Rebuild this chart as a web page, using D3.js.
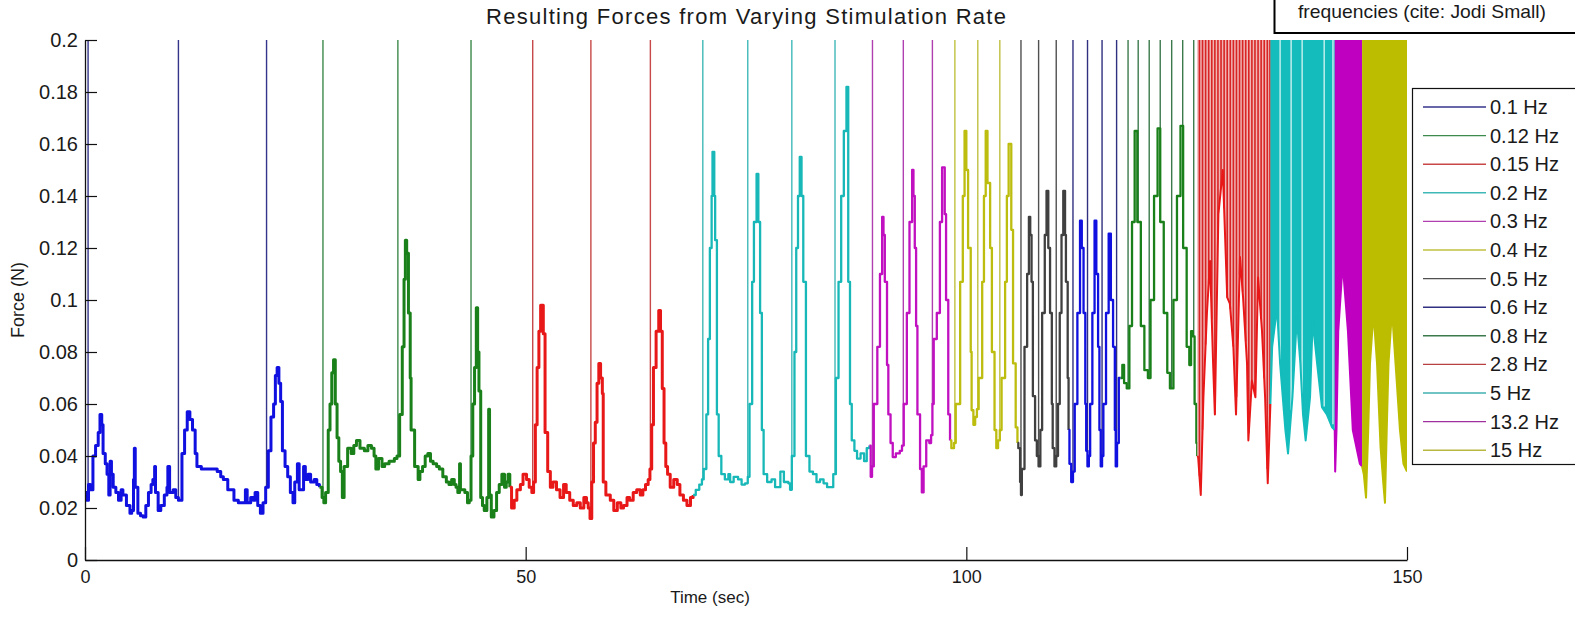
<!DOCTYPE html>
<html lang="en">
<head>
<meta charset="UTF-8">
<title>Resulting Forces from Varying Stimulation Rate</title>
<script src="https://d3js.org/d3.v7.min.js"></script>
<style>
  body { margin: 0; background: #fff; }
  svg { display: block; }
  text { font-family: "Liberation Sans", Arial, sans-serif; fill: #1a1a1a; }
</style>
</head>
<body>
<div id="chart"></div>
<script>
// legend labels, in plotting order
const labels = ["0.1 Hz", "0.12 Hz", "0.15 Hz", "0.2 Hz", "0.3 Hz", "0.4 Hz", "0.5 Hz",
                "0.6 Hz", "0.8 Hz", "2.8 Hz", "5 Hz", "13.2 Hz", "15 Hz"];
const xTicks = [0, 50, 100, 150];
const yTicks = [0, 0.02, 0.04, 0.06, 0.08, 0.1, 0.12, 0.14, 0.16, 0.18, 0.2];

// force trace, [time (s), force (N)]
const trace01 = [[0,0.026],[0.2,0.023],[0.4,0.029],[0.6,0.027],[0.9,0.040],[1.2,0.044],[1.5,0.049],[1.7,0.056],[1.9,0.052],[2.05,0.041],[2.3,0.037],[2.5,0.033],[2.7,0.025],[2.85,0.038],[3.0,0.033],[3.2,0.028],[3.5,0.026],[3.8,0.023],[4.1,0.027],[4.3,0.025],[4.7,0.021],[5.1,0.018],[5.3,0.019],[5.5,0.031],[5.6,0.043],[5.7,0.028],[6.0,0.018],[6.3,0.017],[6.6,0.0165],[6.9,0.021],[7.2,0.026],[7.5,0.029],[7.7,0.031],[7.9,0.036],[8.0,0.026],[8.3,0.019],[8.6,0.021],[9.0,0.025],[9.3,0.028],[9.4,0.036],[9.6,0.026],[10.0,0.027],[10.3,0.024],[10.6,0.023],[11.0,0.041],[11.3,0.050],[11.6,0.057],[11.9,0.054],[12.2,0.050],[12.5,0.041],[12.7,0.036],[13.2,0.035],[13.9,0.035],[14.5,0.035],[15.0,0.034],[15.4,0.032],[15.7,0.031],[16.2,0.027],[16.9,0.023],[17.4,0.022],[18.0,0.022],[18.2,0.027],[18.4,0.022],[18.8,0.024],[19.1,0.023],[19.3,0.026],[19.6,0.021],[19.9,0.018],[20.2,0.022],[20.5,0.028],[20.8,0.042],[21.1,0.055],[21.4,0.060],[21.6,0.071],[21.8,0.074],[22.0,0.068],[22.2,0.061],[22.4,0.042],[22.7,0.036],[23.0,0.032],[23.3,0.026],[23.6,0.022],[23.8,0.030],[24.1,0.037],[24.3,0.027],[24.6,0.027],[24.8,0.036],[25.0,0.031],[25.3,0.033],[25.6,0.030],[26.0,0.031],[26.3,0.029],[26.6,0.028]];
const trace02 = [[26.6,0.028],[26.9,0.024],[27.1,0.022],[27.3,0.026],[27.6,0.050],[27.8,0.060],[28.0,0.072],[28.2,0.077],[28.4,0.060],[28.6,0.047],[28.8,0.038],[29.0,0.034],[29.2,0.024],[29.4,0.036],[29.8,0.043],[30.2,0.041],[30.5,0.044],[30.8,0.046],[31.2,0.043],[31.7,0.042],[32.1,0.044],[32.5,0.043],[32.8,0.040],[33.0,0.035],[33.3,0.039],[33.7,0.036],[34.0,0.037],[34.5,0.038],[35.1,0.039],[35.4,0.040],[35.7,0.056],[36.0,0.082],[36.2,0.108],[36.35,0.123],[36.5,0.118],[36.7,0.095],[36.9,0.070],[37.0,0.050],[37.4,0.036],[37.8,0.031],[38.0,0.034],[38.3,0.036],[38.6,0.040],[38.9,0.041],[39.2,0.038],[39.5,0.037],[39.9,0.036],[40.2,0.035],[40.6,0.032],[41.0,0.030],[41.3,0.029],[41.6,0.031],[41.9,0.029],[42.1,0.028],[42.3,0.026],[42.5,0.037],[42.6,0.027],[43.1,0.026],[43.4,0.022],[43.6,0.023],[43.8,0.040],[44.0,0.060],[44.2,0.074],[44.4,0.097],[44.55,0.080],[44.7,0.065],[44.9,0.024],[45.1,0.021],[45.3,0.019],[45.6,0.024],[45.8,0.058],[45.9,0.025],[46.1,0.0165],[46.4,0.019],[46.7,0.026],[47.0,0.029],[47.3,0.033],[47.6,0.028],[47.8,0.030],[48.0,0.033],[48.2,0.028]];
const trace03 = [[48.2,0.028],[48.4,0.020],[48.7,0.023],[49.0,0.027],[49.4,0.029],[49.7,0.033],[50.1,0.031],[50.4,0.028],[50.7,0.026],[50.9,0.030],[51.1,0.052],[51.3,0.074],[51.5,0.088],[51.7,0.098],[52.0,0.087],[52.2,0.049],[52.5,0.034],[52.8,0.028],[53.1,0.030],[53.5,0.027],[53.9,0.024],[54.3,0.029],[54.6,0.026],[55.0,0.023],[55.4,0.021],[55.8,0.022],[56.2,0.020],[56.6,0.024],[56.9,0.022],[57.1,0.020],[57.3,0.016],[57.5,0.030],[57.7,0.045],[57.9,0.053],[58.1,0.068],[58.3,0.0756],[58.5,0.070],[58.7,0.064],[58.8,0.030],[59.1,0.025],[59.6,0.023],[60.0,0.019],[60.4,0.022],[60.8,0.020],[61.1,0.021],[61.5,0.024],[61.8,0.023],[62.2,0.026],[62.6,0.027],[63.0,0.025],[63.3,0.027],[63.6,0.029],[63.9,0.031],[64.1,0.035],[64.3,0.052],[64.5,0.074],[64.8,0.088],[65.1,0.096],[65.3,0.088],[65.5,0.066],[65.7,0.045],[65.9,0.036],[66.1,0.033],[66.4,0.028],[66.8,0.031],[67.2,0.029],[67.5,0.025],[67.9,0.023],[68.3,0.021],[68.7,0.024],[69.0,0.025]];
const trace04 = [[69.0,0.025],[69.3,0.027],[69.7,0.029],[70.0,0.031],[70.2,0.035],[70.5,0.056],[70.7,0.085],[70.9,0.120],[71.1,0.140],[71.2,0.157],[71.4,0.140],[71.5,0.123],[71.7,0.056],[71.9,0.040],[72.2,0.033],[72.6,0.031],[73.0,0.033],[73.2,0.030],[73.6,0.032],[74.1,0.031],[74.5,0.029],[74.9,0.0295],[75.2,0.032],[75.4,0.060],[75.7,0.107],[75.9,0.130],[76.2,0.1485],[76.4,0.130],[76.6,0.095],[76.8,0.050],[77.0,0.033],[77.4,0.030],[77.9,0.031],[78.3,0.028],[78.9,0.034],[79.3,0.030],[79.8,0.0295],[80.0,0.027],[80.2,0.040],[80.5,0.080],[80.7,0.120],[80.9,0.140],[81.1,0.155],[81.3,0.140],[81.5,0.107],[81.8,0.040],[82.2,0.034],[82.6,0.033],[83.0,0.030],[83.4,0.031],[83.8,0.0295],[84.2,0.028],[84.7,0.028],[84.9,0.033],[85.2,0.070],[85.5,0.107],[85.8,0.140],[86.1,0.165],[86.4,0.182],[86.6,0.107],[86.8,0.060],[87.0,0.046],[87.3,0.042],[87.6,0.039],[88.0,0.041],[88.4,0.038],[88.7,0.043],[89.0,0.044]];
const trace05 = [[89.0,0.044],[89.15,0.032],[89.3,0.036],[89.5,0.060],[89.9,0.082],[90.2,0.110],[90.45,0.132],[90.6,0.125],[90.75,0.107],[91.0,0.075],[91.15,0.056],[91.4,0.045],[91.65,0.0396],[92.0,0.041],[92.45,0.042],[92.7,0.044],[92.9,0.060],[93.25,0.095],[93.55,0.130],[93.85,0.150],[94.0,0.140],[94.15,0.120],[94.3,0.090],[94.45,0.056],[94.75,0.035],[94.95,0.026],[95.15,0.036],[95.45,0.046],[95.8,0.045],[96.0,0.048],[96.15,0.060],[96.3,0.085],[96.65,0.095],[97.0,0.130],[97.25,0.151],[97.55,0.133],[97.7,0.100],[97.95,0.056],[98.15,0.046]];
const trace06 = [[98.15,0.046],[98.3,0.043],[98.6,0.045],[98.8,0.060],[99.3,0.107],[99.6,0.140],[99.8,0.165],[100.0,0.150],[100.2,0.120],[100.5,0.080],[100.6,0.0576],[100.8,0.052],[101.0,0.055],[101.2,0.058],[101.4,0.070],[101.8,0.107],[102.0,0.140],[102.2,0.165],[102.4,0.145],[102.7,0.120],[102.9,0.080],[103.2,0.050],[103.4,0.043],[103.6,0.046],[103.8,0.050],[104.0,0.070],[104.4,0.107],[104.6,0.140],[104.8,0.160],[105.1,0.127],[105.3,0.0756],[105.6,0.051],[105.8,0.045]];
const trace07 = [[105.8,0.045],[105.9,0.043],[106.1,0.030],[106.2,0.025],[106.3,0.035],[106.6,0.082],[106.9,0.110],[107.1,0.132],[107.25,0.125],[107.4,0.107],[107.55,0.063],[107.8,0.046],[108.0,0.040],[108.2,0.036],[108.4,0.050],[108.6,0.095],[108.9,0.125],[109.1,0.142],[109.3,0.120],[109.5,0.095],[109.7,0.060],[109.8,0.043],[110.0,0.036],[110.2,0.040],[110.4,0.060],[110.6,0.095],[110.8,0.125],[111.0,0.142],[111.2,0.125],[111.3,0.107],[111.5,0.070],[111.6,0.050]];
const trace08 = [[111.6,0.050],[111.7,0.037],[111.9,0.030],[112.1,0.034],[112.3,0.060],[112.6,0.095],[112.9,0.1305],[113.1,0.120],[113.3,0.095],[113.5,0.060],[113.6,0.042],[113.75,0.036],[113.9,0.040],[114.05,0.060],[114.3,0.095],[114.55,0.1305],[114.75,0.110],[114.95,0.082],[115.1,0.050],[115.25,0.036],[115.4,0.040],[115.55,0.060],[115.85,0.095],[116.15,0.1255],[116.4,0.100],[116.65,0.082],[116.85,0.050],[116.95,0.036],[117.1,0.045],[117.3,0.070],[117.5,0.070]];
const trace09 = [[117.5,0.070],[117.7,0.075],[117.9,0.068],[118.2,0.066],[118.5,0.090],[118.8,0.130],[119.1,0.165],[119.4,0.130],[119.8,0.090],[120.2,0.073],[120.6,0.070],[120.9,0.100],[121.3,0.140],[121.7,0.166],[122.0,0.130],[122.4,0.095],[122.8,0.072],[123.1,0.066],[123.5,0.100],[123.9,0.140],[124.3,0.167],[124.6,0.120],[125.0,0.082],[125.3,0.075],[125.5,0.088],[125.7,0.086],[125.9,0.060],[126.1,0.045],[126.2,0.040]];
const trace10 = [[126.2,0.040],[126.3,0.0396],[126.6,0.025],[126.9,0.0626],[127.3,0.095],[127.65,0.115],[128.0,0.0756],[128.2,0.056],[128.6,0.133],[129.1,0.150],[129.6,0.101],[129.9,0.0986],[130.3,0.082],[130.6,0.056],[131.05,0.1165],[131.4,0.101],[131.85,0.0756],[132.0,0.046],[132.4,0.069],[132.8,0.0626],[133.1,0.1087],[133.55,0.088],[133.9,0.0626],[134.2,0.0295],[134.5,0.060]];
const trace11 = [[134.5,0.060],[134.7,0.082],[135.25,0.097],[135.6,0.0756],[136.2,0.050],[136.5,0.041],[137.0,0.0626],[137.5,0.093],[137.9,0.0756],[138.2,0.056],[138.5,0.046],[139.0,0.0626],[139.3,0.092],[139.8,0.0756],[140.35,0.0588],[140.9,0.056],[141.5,0.051],[141.8,0.050]];
const trace12 = [[141.8,0.050],[141.85,0.034],[142.0,0.050],[142.2,0.088],[142.7,0.114],[143.3,0.088],[143.85,0.050],[144.65,0.037],[144.9,0.036]];
const trace13 = [[144.9,0.036],[145.1,0.033],[145.35,0.024],[145.6,0.050],[145.8,0.0756],[146.2,0.095],[146.6,0.0756],[147.0,0.0434],[147.3,0.030],[147.5,0.022],[147.7,0.050],[147.9,0.0756],[148.3,0.096],[148.7,0.0756],[149.2,0.050],[149.6,0.037],[150,0.034]];

// stimulation artefacts (vertical lines running off the top), times in s
const stim01 = [0.35, 10.6, 20.6];
const stim02 = [27.0, 35.5, 43.8];
const stim03 = [50.8, 57.4, 64.15];
const stim04 = [70.1, 75.2, 80.2, 85.1];
const stim05 = [89.35, 92.85, 96.15];
const stim06 = [98.7, 101.3, 103.8];
const stim07 = [106.2, 108.2, 110.2];
const stim08 = [112.1, 113.75, 115.4, 117.05];
const stim09 = [118.35, 119.5, 120.75, 122.0, 123.3, 124.55, 125.8];
const stim10 = [126.45, 126.8, 127.15, 127.5, 127.85, 128.2, 128.55, 128.9, 129.25, 129.6, 129.95, 130.3,
                130.65, 131.0, 131.35, 131.7, 132.05, 132.4, 132.75, 133.1, 133.45, 133.8, 134.15, 134.45];
// white slivers left between the 5 Hz artefacts
const gaps11 = [135.6, 136.85, 138.1, 140.6, 141.6];

// MATLAB-ish colours: thick trace colour and the thinner line colour
const traceColors = ["#1010e0", "#1a801a", "#e81818", "#18b8b8", "#c010c0", "#bdbd10", "#404040",
                     "#1010e0", "#1a801a", "#e81818", "#14bcbc", "#c000c0", "#bcbc00"];
const lineColors = ["#34348c", "#3c8a4c", "#c84848", "#40b8b8", "#b040b0", "#c0c040", "#505050",
                    "#303080", "#3c7a4c", "#b84040", "#40b0b0", "#a030a0", "#b8b840"];

const segments = [
  { trace: trace01, stims: stim01, noisy: true }, { trace: trace02, stims: stim02, noisy: true },
  { trace: trace03, stims: stim03, noisy: true }, { trace: trace04, stims: stim04 },
  { trace: trace05, stims: stim05 }, { trace: trace06, stims: stim06 },
  { trace: trace07, stims: stim07 }, { trace: trace08, stims: stim08 }, { trace: trace09, stims: stim09 },
  { trace: trace10, stims: stim10, fill: "#f0b4b4", linear: true },
  { trace: trace11, stims: [], gaps: gaps11, fill: traceColors[10], linear: true },
  { trace: trace12, stims: [], fill: traceColors[11], linear: true },
  { trace: trace13, stims: [], fill: traceColors[12], linear: true }
].map((s, i) => ({ ...s, label: labels[i], color: traceColors[i], lineColor: lineColors[i] }));

const width = 1575, height = 620;
const plot = { left: 85, right: 1407, top: 40, bottom: 560 };

const svg = d3.select("#chart").append("svg")
  .attr("width", width).attr("height", height);

const x = d3.scaleLinear().domain([0, 150]).range([plot.left, plot.right]);
const y = d3.scaleLinear().domain([0, 0.2]).range([plot.bottom, plot.top]);

svg.append("clipPath").attr("id", "clip")
  .append("rect")
  .attr("x", plot.left).attr("y", plot.top)
  .attr("width", plot.right - plot.left).attr("height", plot.bottom - plot.top);

const g = svg.append("g").attr("clip-path", "url(#clip)");

// value of the (step) trace at time t, so artefact lines start on the trace
const bisect = d3.bisector(d => d[0]).right;
function valueAt(tr, t, linear) {
  const i = Math.max(1, Math.min(tr.length - 1, bisect(tr, t)));
  const a = tr[i - 1], b = tr[i];
  if (!linear) return a[1];
  const k = (t - a[0]) / (b[0] - a[0]);
  return a[1] + k * (b[1] - a[1]);
}

segments.forEach(s => {
  const curve = s.linear ? d3.curveLinear : d3.curveStepAfter;

  if (s.fill) {
    g.append("path")
      .datum(s.trace)
      .attr("fill", s.fill)
      .attr("d", d3.area().x(d => x(d[0])).y0(y(0.2)).y1(d => y(d[1])).curve(curve));
  }

  g.selectAll(null)
    .data(s.stims)
    .enter().append("line")
    .attr("x1", d => x(d)).attr("x2", d => x(d))
    .attr("y1", d => y(valueAt(s.trace, d, s.linear)))
    .attr("y2", y(0.2))
    .attr("stroke", s.fill ? "#d82424" : s.lineColor)
    .attr("stroke-width", s.fill ? 1.6 : 1.4);

  if (s.gaps) {
    g.selectAll(null)
      .data(s.gaps)
      .enter().append("line")
      .attr("x1", d => x(d)).attr("x2", d => x(d))
      .attr("y1", d => y(valueAt(s.trace, d, true)) - 4)
      .attr("y2", y(0.2))
      .attr("stroke", "#e8fafa")
      .attr("stroke-width", 1.2);
  }

  g.append("path")
    .datum(s.trace)
    .attr("fill", "none")
    .attr("stroke", s.color)
    .attr("stroke-width", s.fill ? 2 : (s.noisy ? 3 : 2.3))
    .attr("stroke-linejoin", "round")
    .attr("d", d3.line().x(d => x(d[0])).y(d => y(d[1])).curve(curve));
});

// axes, ticks pointing inward like MATLAB, no box
const yAxis = svg.append("g")
  .attr("transform", `translate(${plot.left},0)`)
  .call(d3.axisLeft(y).tickValues(yTicks).tickFormat(d3.format(".2~f"))
    .tickSizeInner(-12).tickSizeOuter(0).tickPadding(7));

const xAxis = svg.append("g")
  .attr("transform", `translate(0,${plot.bottom})`)
  .call(d3.axisBottom(x).tickValues(xTicks).tickFormat(d3.format("d"))
    .tickSizeInner(-13).tickSizeOuter(0).tickPadding(10));

[xAxis, yAxis].forEach(a => {
  a.select(".domain").attr("stroke", "#111").attr("stroke-width", 1.3);
  a.selectAll(".tick line").attr("stroke", "#111").attr("stroke-width", 1.2);
  a.selectAll(".tick text").attr("fill", "#1a1a1a")
    .attr("font-family", '"Liberation Sans", Arial, sans-serif');
});
yAxis.selectAll(".tick text").attr("font-size", 20);
xAxis.selectAll(".tick text").attr("font-size", 18);

// labels
svg.append("text")
  .attr("x", (plot.left + plot.right) / 2).attr("y", 24)
  .attr("text-anchor", "middle").attr("font-size", 22)
  .attr("textLength", 520).attr("lengthAdjust", "spacing")
  .text("Resulting Forces from Varying Stimulation Rate");

svg.append("text")
  .attr("x", 710).attr("y", 603)
  .attr("text-anchor", "middle").attr("font-size", 17)
  .text("Time (sec)");

svg.append("text")
  .attr("transform", `translate(24,${(plot.top + plot.bottom) / 2}) rotate(-90)`)
  .attr("text-anchor", "middle").attr("font-size", 18)
  .text("Force (N)");

// legend
const legend = svg.append("g");
legend.append("rect")
  .attr("x", 1412.5).attr("y", 88.5)
  .attr("width", 180).attr("height", 376)
  .attr("fill", "#fff").attr("stroke", "#111").attr("stroke-width", 1.2);

const item = legend.selectAll(".item")
  .data(segments)
  .enter().append("g")
  .attr("class", "item")
  .attr("transform", (d, i) => `translate(0,${107 + i * 28.6})`);

item.append("line")
  .attr("x1", 1423).attr("x2", 1486)
  .attr("stroke", d => d.lineColor).attr("stroke-width", 1.4);

item.append("text")
  .attr("x", 1490).attr("dy", "0.35em")
  .attr("font-size", 20)
  .text(d => d.label);

// annotation box cut off at the top right
svg.append("rect")
  .attr("x", 1274.5).attr("y", -5)
  .attr("width", 320).attr("height", 38)
  .attr("fill", "#fff").attr("stroke", "#000").attr("stroke-width", 2);

svg.append("text")
  .attr("x", 1298).attr("y", 18)
  .attr("font-family", '"Open Sans", "Liberation Sans", sans-serif')
  .attr("font-size", 19)
  .attr("textLength", 248).attr("lengthAdjust", "spacingAndGlyphs")
  .text("frequencies (cite: Jodi Small)");
</script>
</body>
</html>
